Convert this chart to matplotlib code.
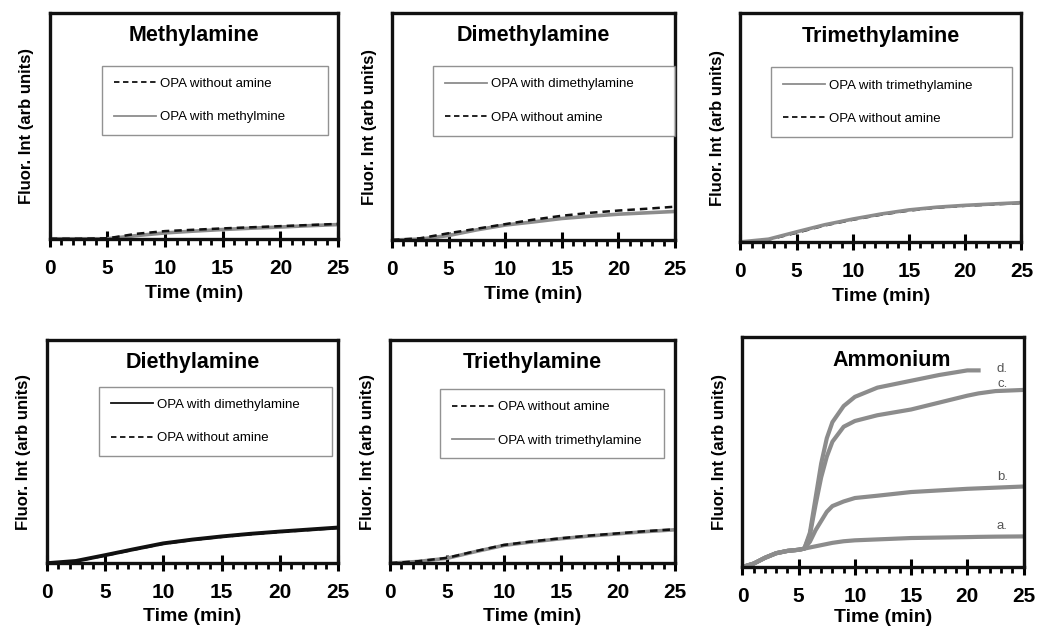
import numpy as np
import matplotlib.pyplot as plt
from matplotlib.ticker import MultipleLocator

plt.rcParams['font.family'] = ['Liberation Sans', 'DejaVu Sans']

GRAY = '#8c8c8c'
BLACK = '#111111'

# time axes (min)
t_slow = [0, 2.5, 5, 7.5, 10, 12.5, 15, 17.5, 20, 22.5, 25]
t_amm = [0, 1, 2, 3, 4, 5, 5.5, 6, 6.5, 7, 7.5, 8, 9, 10, 12, 15, 17.5, 20, 21, 22.5, 25]

# Methylamine
methyl_none = [0, 0, 0.002, 0.022, 0.034, 0.04, 0.046, 0.051, 0.056, 0.061, 0.066]
methyl_amine = [0, 0, 0, 0.014, 0.026, 0.034, 0.041, 0.047, 0.052, 0.058, 0.063]
# Dimethylamine
dimethyl_amine = [0, 0.004, 0.02, 0.045, 0.066, 0.08, 0.095, 0.105, 0.114, 0.12, 0.126]
dimethyl_none = [0, 0.008, 0.03, 0.05, 0.07, 0.09, 0.107, 0.12, 0.13, 0.138, 0.147]
# Trimethylamine
trimethyl_amine = [0, 0.012, 0.044, 0.075, 0.1, 0.122, 0.14, 0.152, 0.16, 0.166, 0.172]
trimethyl_none = [0, 0.01, 0.04, 0.072, 0.097, 0.119, 0.137, 0.15, 0.158, 0.164, 0.17]
# Diethylamine
diethyl_amine = [0, 0.01, 0.036, 0.063, 0.089, 0.106, 0.12, 0.132, 0.142, 0.151, 0.16]
diethyl_none = [0, 0.009, 0.034, 0.061, 0.087, 0.104, 0.118, 0.13, 0.14, 0.149, 0.158]
# Triethylamine
triethyl_none = [0, 0.009, 0.024, 0.054, 0.082, 0.098, 0.112, 0.124, 0.134, 0.144, 0.152]
triethyl_amine = [0, 0.008, 0.022, 0.052, 0.08, 0.096, 0.11, 0.122, 0.132, 0.142, 0.15]

# Ammonium, curves a-d
amm_a = [0, 0.015, 0.04, 0.06, 0.07, 0.075, 0.08, 0.085, 0.09, 0.095, 0.1, 0.105, 0.112,
         0.116, 0.12, 0.126, 0.128, 0.13, 0.131, 0.132, 0.133]
amm_b = [0, 0.015, 0.04, 0.06, 0.07, 0.075, 0.08, 0.11, 0.16, 0.2, 0.24, 0.265, 0.285,
         0.3, 0.31, 0.326, 0.333, 0.34, 0.342, 0.345, 0.35]
amm_c = [0, 0.015, 0.04, 0.06, 0.07, 0.075, 0.08, 0.14, 0.27, 0.39, 0.48, 0.545, 0.61,
         0.635, 0.66, 0.685, 0.715, 0.745, 0.755, 0.765, 0.77]
amm_d = [0, 0.015, 0.04, 0.06, 0.07, 0.075, 0.08, 0.15, 0.3, 0.45, 0.56, 0.63, 0.7,
         0.74, 0.78, 0.81, 0.835, 0.855, 0.855, np.nan, np.nan]
amm_labels = ['a.', 'b.', 'c.', 'd.']
amm_label_y = [0.18, 0.39, 0.795, 0.862]

dash = (0, (3, 2))

panels = [
    # title, rect, legend box, series [(y, label, style)], legend order, xlabel pad
    ('Methylamine', [0.048, 0.621, 0.278, 0.358], (0.18, 0.46, 0.785, 0.31),
     [(methyl_amine, 'OPA with methylmine', 'gray'),
      (methyl_none, 'OPA without amine', 'dash')], [1, 0], 5),
    ('Dimethylamine', [0.378, 0.619, 0.273, 0.36], (0.145, 0.46, 0.855, 0.33),
     [(dimethyl_amine, 'OPA with dimethylamine', 'gray'),
      (dimethyl_none, 'OPA without amine', 'dash')], [0, 1], 5),
    ('Trimethylamine', [0.714, 0.616, 0.271, 0.363], (0.11, 0.46, 0.855, 0.295),
     [(trimethyl_none, 'OPA without amine', 'dash'),
      (trimethyl_amine, 'OPA with trimethylamine', 'gray')], [1, 0], 5),
    ('Diethylamine', [0.045, 0.106, 0.281, 0.354], (0.18, 0.48, 0.8, 0.3),
     [(diethyl_none, 'OPA without amine', 'dash'),
      (diethyl_amine, 'OPA with dimethylamine', 'black')], [1, 0], 4),
    ('Triethylamine', [0.376, 0.106, 0.275, 0.354], (0.175, 0.47, 0.785, 0.305),
     [(triethyl_amine, 'OPA with trimethylamine', 'gray'),
      (triethyl_none, 'OPA without amine', 'dash')], [1, 0], 4),
]

fig = plt.figure(figsize=(10.37, 6.30), dpi=100)


def style_axes(ax, xpad):
    ax.set_xlim(0, 25)
    ax.set_ylim(0, 1)
    ax.set_yticks([])
    ax.xaxis.set_major_locator(MultipleLocator(5))
    ax.xaxis.set_minor_locator(MultipleLocator(1))
    ax.tick_params(axis='x', which='major', direction='inout', length=11, width=2.2,
                   pad=9, labelsize=15)
    ax.tick_params(axis='x', which='minor', direction='out', length=4.5, width=2)
    for lab in ax.get_xticklabels():
        lab.set_fontweight('bold')
    for s in ax.spines.values():
        s.set_linewidth(2.4)
        s.set_color(BLACK)
    ax.set_xlabel('Time (min)', fontsize=14, fontweight='bold', labelpad=xpad)
    ax.set_ylabel('Fluor. Int (arb units)', fontsize=12, fontweight='bold', labelpad=11)


for title, rect, lbox, series, order, xpad in panels:
    ax = fig.add_axes(rect)
    handles = []
    for y, label, st in series:
        if st == 'gray':
            h, = ax.plot(t_slow, y, color=GRAY, lw=2.6, label=label)
        elif st == 'black':
            h, = ax.plot(t_slow, y, color=BLACK, lw=2.8, label=label)
        else:
            h, = ax.plot(t_slow, y, color=BLACK, lw=1.8, linestyle=dash, label=label)
        handles.append(h)
    ax.text(0.5, 0.9, title, transform=ax.transAxes, ha='center', va='center',
            fontsize=15.5, fontweight='bold')
    leg = ax.legend([handles[i] for i in order], [series[i][1] for i in order],
                    loc='lower left', bbox_to_anchor=lbox, mode='expand',
                    borderaxespad=0, fontsize=9.5, frameon=True, fancybox=False,
                    labelspacing=1.6, handlelength=3.2, handletextpad=0.3,
                    borderpad=0.9)
    leg.get_frame().set_edgecolor('#777777')
    leg.get_frame().set_linewidth(1.0)
    for lh in leg.get_lines():
        lh.set_linewidth(1.3)
    style_axes(ax, xpad)

# Ammonium panel
ax = fig.add_axes([0.716, 0.1, 0.271, 0.365])
for y in [amm_a, amm_b, amm_c, amm_d]:
    ax.plot(t_amm, y, color=GRAY, lw=3.0)
for lab, ly in zip(amm_labels, amm_label_y):
    ax.text(23.1, ly, lab, ha='center', va='center', fontsize=9.5, color='#555555')
ax.text(0.53, 0.9, 'Ammonium', transform=ax.transAxes, ha='center', va='center',
        fontsize=15.5, fontweight='bold')
style_axes(ax, 2)

fig.savefig('out.png', dpi=100)
